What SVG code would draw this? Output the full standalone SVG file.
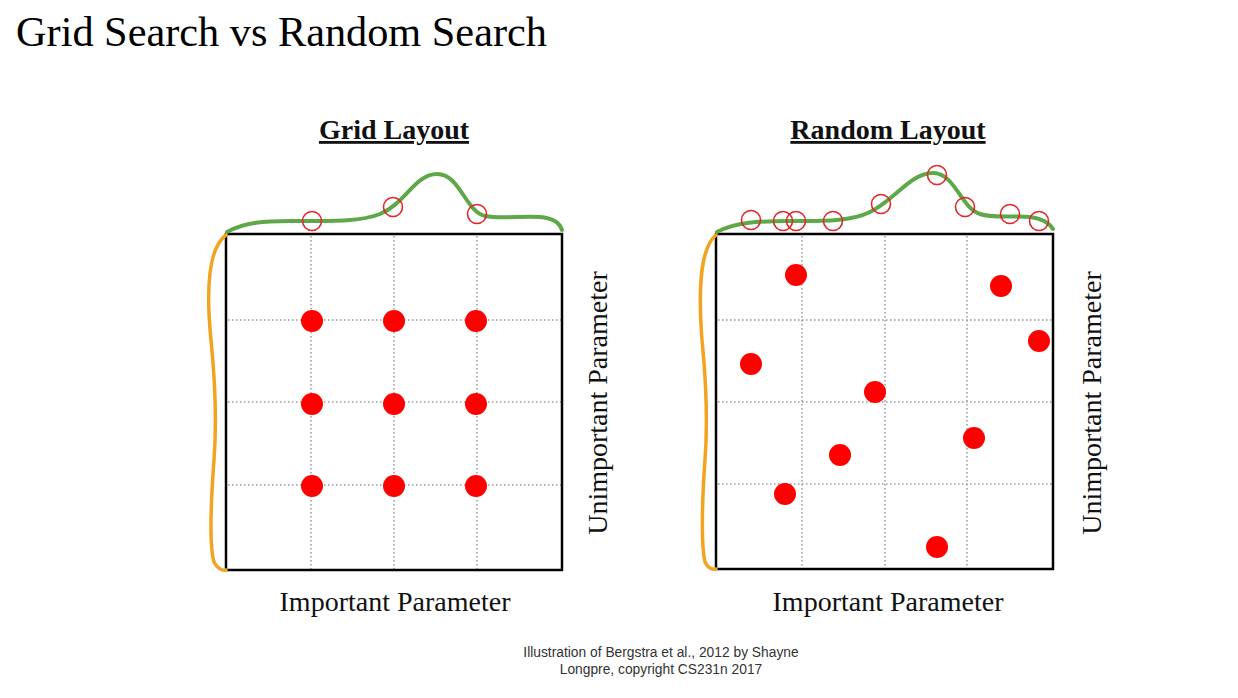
<svg xmlns="http://www.w3.org/2000/svg" width="1238" height="698" viewBox="0 0 1238 698">
<style>
.title{font-family:"Liberation Serif","Times New Roman",serif;font-size:42.3px;fill:#000}
.sub{font-family:"Liberation Serif","Times New Roman",serif;font-size:28px;font-weight:bold;fill:#111;text-decoration:underline}
.axis{font-family:"Liberation Serif","Times New Roman",serif;font-size:28px;fill:#111}
.foot{font-family:"Liberation Sans",Arial,sans-serif;font-size:13.8px;fill:#333}
.grid{stroke:#999;stroke-width:1.5;stroke-dasharray:1.5 2.5;fill:none}
.box{fill:none;stroke:#000;stroke-width:2.5}
.green{fill:none;stroke:#5fa84a;stroke-width:4;stroke-linecap:round}
.orange{fill:none;stroke:#f2a31f;stroke-width:3.5;stroke-linecap:round}
.dot{fill:#ff0000}
.ring{fill:none;stroke:#e3262b;stroke-width:1.6}
</style>
<rect width="1238" height="698" fill="#fff"/>
<text class="title" x="16" y="46">Grid Search vs Random Search</text>

<g id="grid-layout">
  <text class="sub" x="394" y="139" text-anchor="middle">Grid Layout</text>
  <g class="grid">
    <line x1="311" y1="236" x2="311" y2="569"/>
    <line x1="394" y1="236" x2="394" y2="569"/>
    <line x1="477" y1="236" x2="477" y2="569"/>
    <line x1="228" y1="320" x2="561" y2="320"/>
    <line x1="228" y1="402" x2="561" y2="402"/>
    <line x1="228" y1="485" x2="561" y2="485"/>
  </g>
  <rect class="box" x="226" y="234" width="336" height="336"/>
  <path class="green" d="M227,232 C245,222 265,221 290,221 C330,221 360,222 380,214 C405,204 415,174 437,174 C460,174 465,211 485,216 C500,219 520,216 540,217 C555,218 560,224 562,230"/>
  <path class="orange" d="M226,235 C206,250 207,300 211,340 C215,380 217,420 214,460 C211,500 209,545 214,562 C217,568 222,571 226,570"/>
  <g class="ring">
    <circle cx="312" cy="221" r="9.5"/>
    <circle cx="393" cy="207" r="9.5"/>
    <circle cx="477" cy="214" r="9.5"/>
  </g>
  <g class="dot">
    <circle cx="312" cy="321" r="11"/>
    <circle cx="394" cy="321" r="11"/>
    <circle cx="476" cy="321" r="11"/>
    <circle cx="312" cy="404" r="11"/>
    <circle cx="394" cy="404" r="11"/>
    <circle cx="476" cy="404" r="11"/>
    <circle cx="312" cy="486" r="11"/>
    <circle cx="394" cy="486" r="11"/>
    <circle cx="476" cy="486" r="11"/>
  </g>
  <text class="axis" x="395" y="611" text-anchor="middle">Important Parameter</text>
  <text class="axis" transform="translate(607,403) rotate(-90)" text-anchor="middle">Unimportant Parameter</text>
</g>

<g id="random-layout">
  <text class="sub" x="888" y="139" text-anchor="middle">Random Layout</text>
  <g class="grid">
    <line x1="802" y1="236" x2="802" y2="568"/>
    <line x1="885" y1="236" x2="885" y2="568"/>
    <line x1="967" y1="236" x2="967" y2="568"/>
    <line x1="718" y1="320" x2="1052" y2="320"/>
    <line x1="718" y1="402" x2="1052" y2="402"/>
    <line x1="718" y1="484" x2="1052" y2="484"/>
  </g>
  <rect class="box" x="716" y="234" width="337" height="335"/>
  <path class="green" d="M717,232 C735,222 760,221 790,221 C820,221 850,222 870,212 C895,200 910,173 933,173 C955,173 960,207 980,214 C995,219 1015,215 1030,217 C1045,219 1050,224 1053,229"/>
  <path class="orange" d="M716,235 C698,250 699,300 702,340 C706,380 708,420 705,460 C702,500 701,545 705,562 C708,568 712,570 716,569"/>
  <g class="ring">
    <circle cx="751" cy="220" r="9.5"/>
    <circle cx="783" cy="221" r="9.5"/>
    <circle cx="796" cy="221" r="9.5"/>
    <circle cx="833" cy="221" r="9.5"/>
    <circle cx="881" cy="204" r="9.5"/>
    <circle cx="937" cy="175" r="9.5"/>
    <circle cx="965" cy="207" r="9.5"/>
    <circle cx="1010" cy="214" r="9.5"/>
    <circle cx="1039" cy="221" r="9.5"/>
  </g>
  <g class="dot">
    <circle cx="796" cy="275" r="11"/>
    <circle cx="1001" cy="286" r="11"/>
    <circle cx="1039" cy="341" r="11"/>
    <circle cx="751" cy="364" r="11"/>
    <circle cx="875" cy="392" r="11"/>
    <circle cx="974" cy="438" r="11"/>
    <circle cx="840" cy="455" r="11"/>
    <circle cx="785" cy="494" r="11"/>
    <circle cx="937" cy="547" r="11"/>
  </g>
  <text class="axis" x="888" y="611" text-anchor="middle">Important Parameter</text>
  <text class="axis" transform="translate(1101,403) rotate(-90)" text-anchor="middle">Unimportant Parameter</text>
</g>

<g id="credit">
  <text class="foot" x="661" y="657" text-anchor="middle">Illustration of Bergstra et al., 2012 by Shayne</text>
  <text class="foot" x="661" y="674" text-anchor="middle">Longpre, copyright CS231n 2017</text>
</g>
</svg>
